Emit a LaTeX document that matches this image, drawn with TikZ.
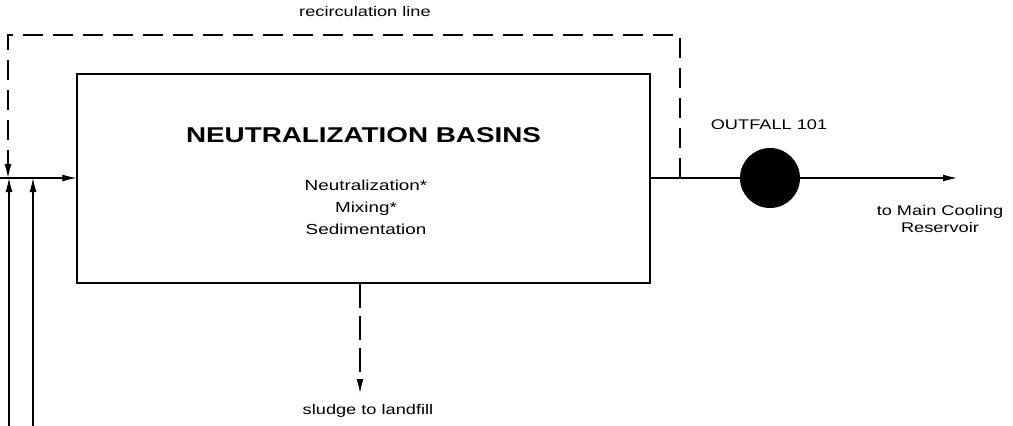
\documentclass[tikz,border=0pt]{standalone}
\usepackage{fontspec}
\setmainfont{Liberation Sans}
\usetikzlibrary{arrows.meta}
% horizontally widened lettering
\newcommand\widetxt[1]{\scalebox{1.3}[1]{#1}}
\tikzset{
  flow/.style={line width=1.1pt},
  tip/.style={-{Latex[length=14pt,width=7pt]}},
  dashflow/.style={flow, dash pattern=on 20pt off 10pt},
  label/.style={inner sep=0pt, anchor=base, font=\fontsize{14}{17}\selectfont},
  body/.style={inner sep=0pt, anchor=base, font=\fontsize{14.5}{17}\selectfont},
}
\begin{document}
\begin{tikzpicture}[x=1pt,y=-1pt]
\useasboundingbox (0,0) rectangle (1013,426);

% treatment basin
\node[draw, line width=1.3pt, minimum width=573pt, minimum height=209pt, inner sep=0pt]
  (basin) at (363.5,178.5) {};
\node[inner sep=0pt, anchor=base, font=\bfseries\fontsize{21.4}{25}\selectfont]
  (title) at (363.5,142) {\widetxt{NEUTRALIZATION BASINS}};
\node[body] (p1) at (366,190) {\widetxt{Neutralization*}};
\node[body] (p2) at (366,212) {\widetxt{Mixing*}};
\node[body] (p3) at (366,234) {\widetxt{Sedimentation}};

% outfall
\node[circle, fill=black, minimum size=60pt, inner sep=0pt] (outfall) at (770,178) {};
\node[label] (outlbl) at (769,129) {\widetxt{OUTFALL 101}};

% free ends of the flow lines
\coordinate (feed) at (0,178);
\coordinate (jA) at (9,178);
\coordinate (jB) at (33,178);
\coordinate (srcA) at (9,426);
\coordinate (srcB) at (33,426);
\coordinate (tap) at (680,178);
\coordinate (rc1) at (680,35);
\coordinate (rc2) at (8,35);
\coordinate (rcEnd) at (8,178);
\coordinate (res) at (957,178);
\coordinate (sludge) at (360,393);

% main flow
\draw[flow, tip] (feed) -- (basin.west |- feed);
\draw[flow, tip] (srcA) -- (jA);
\draw[flow, tip] (srcB) -- (jB);
\draw[flow] (basin.east |- tap) -- (outfall.west);
\draw[flow, tip] (outfall.east) -- (res);

% recirculation loop
\draw[dashflow, tip] (tap) -- (rc1) -- (rc2) -- (rcEnd);
\node[label] (rclbl) at (365,16) {\widetxt{recirculation line}};

% sludge removal
\draw[dashflow, dash pattern=on 24pt off 8pt, tip] (basin.south -| sludge) -- (sludge);
\node[label] (sllbl) at (368,414) {\widetxt{sludge to landfill}};

% destination
\node[label, align=center, font=\fontsize{14}{17}\selectfont] (reslbl) at (940,232)
  {\widetxt{to Main Cooling}\\\widetxt{Reservoir}};
\end{tikzpicture}
\end{document}
